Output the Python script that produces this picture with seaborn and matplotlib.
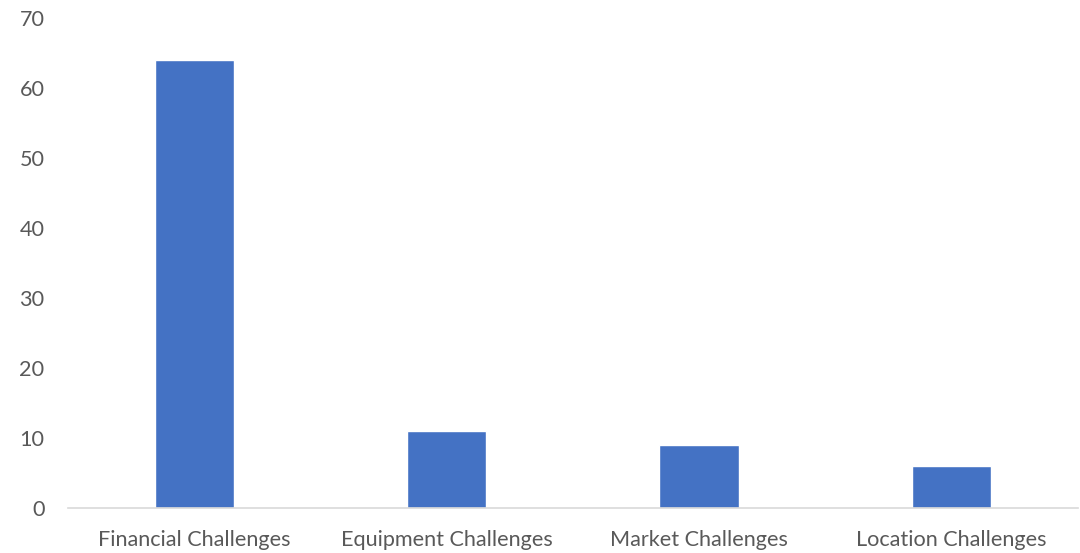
import matplotlib
matplotlib.use("Agg")
import matplotlib.pyplot as plt
import seaborn as sns
import pandas as pd

categories = ["Financial Challenges", "Equipment Challenges", "Market Challenges", "Location Challenges"]
values = [64, 11, 9, 6]
y_ticks = [0, 10, 20, 30, 40, 50, 60, 70]

sns.set_style("white")
plt.rcParams["font.family"] = ["Lato", "DejaVu Sans"]

df = pd.DataFrame({"category": categories, "value": values})

fig = plt.figure(figsize=(10.8, 5.53), dpi=100)
ax = fig.add_axes([0.063, 0.0814, 0.935, 0.8861])

sns.barplot(data=df, x="category", y="value", color="#4472C4", saturation=1,
            width=0.315, ax=ax)

ax.set_xlim(-0.5, len(categories) - 0.5)
ax.set_ylim(0, 70)
ax.set_yticks(y_ticks)
ax.set_xlabel("")
ax.set_ylabel("")

for side in ["top", "right", "left"]:
    ax.spines[side].set_visible(False)
ax.spines["bottom"].set_color("#d9d9d9")
ax.spines["bottom"].set_linewidth(1.2)

ax.tick_params(axis="both", length=0, labelsize=15.6, colors="#595959")
ax.tick_params(axis="y", pad=17)
ax.tick_params(axis="x", pad=16)

fig.savefig("out.png", dpi=100)
